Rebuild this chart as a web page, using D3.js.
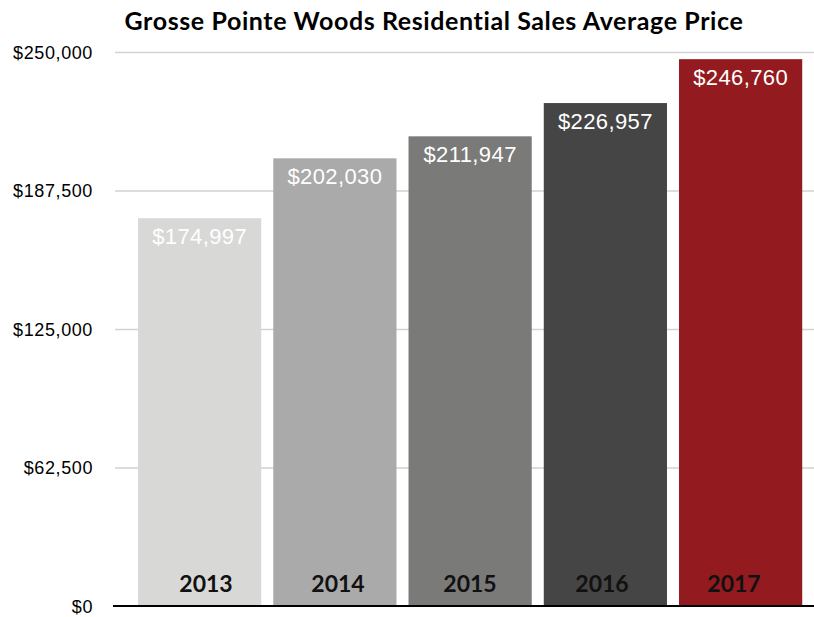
<!DOCTYPE html>
<html>
<head>
<meta charset="utf-8">
<script src="https://cdn.jsdelivr.net/npm/d3@7"></script>
<style>
  html, body { margin: 0; padding: 0; background: #fff; }
  svg { display: block; }
</style>
</head>
<body>
<svg id="chart" width="814" height="617"></svg>
<script>
const years = ["2013", "2014", "2015", "2016", "2017"];
const avgPrice = [174997, 202030, 211947, 226957, 246760];
const barColors = ["#d8d8d7", "#a9aaa9", "#7a7a79", "#454545", "#931a1e"];
const yTicks = [0, 62500, 125000, 187500, 250000];
const title = "Grosse Pointe Woods Residential Sales Average Price";

const svg = d3.select("#chart");
const plotLeft = 114, plotRight = 814;
const yTop = 52, yBottom = 606;

const x = d3.scaleBand()
  .domain(years)
  .range([132, 808.25])
  .paddingInner(0.089)
  .paddingOuter(0.0445);

// year captions sit on a slightly tighter spacing than the bars
const xYear = d3.scalePoint().domain(years).range([206, 734]);

const y = d3.scaleLinear().domain([0, 250000]).range([yBottom, yTop]);

const fmt = d3.format("$,");

// title
svg.append("text")
  .attr("x", 434).attr("y", 30)
  .attr("text-anchor", "middle")
  .attr("font-family", "Lato, 'Open Sans', sans-serif")
  .attr("font-weight", "bold")
  .attr("font-size", 25)
  .attr("letter-spacing", 0.6)
  .attr("fill", "#000")
  .text(title);

// y axis + grid
const yAxis = d3.axisLeft(y).tickValues(yTicks).tickFormat(fmt).tickSize(0).tickPadding(0);
const gAxis = svg.append("g").attr("transform", `translate(${plotLeft},0)`).call(yAxis);
gAxis.select(".domain").remove();
gAxis.selectAll(".tick text")
  .attr("x", -21)
  .attr("dy", "0.36em")
  .attr("font-family", "'Liberation Sans', Arial, sans-serif")
  .attr("font-size", 18)
  .attr("letter-spacing", 0.6)
  .attr("fill", "#000");
gAxis.selectAll(".tick").filter(d => d !== 0)
  .append("line")
  .attr("x1", 1).attr("x2", plotRight - plotLeft)
  .attr("stroke", "#d2d2d2").attr("stroke-width", 1.5);

// bars
svg.append("g").selectAll("rect")
  .data(years)
  .join("rect")
  .attr("x", d => x(d))
  .attr("width", x.bandwidth())
  .attr("y", (d, i) => y(avgPrice[i]))
  .attr("height", (d, i) => y(0) - y(avgPrice[i]))
  .attr("fill", (d, i) => barColors[i]);

// value labels
svg.append("g").selectAll("text")
  .data(years)
  .join("text")
  .attr("x", d => x(d) + x.bandwidth() / 2)
  .attr("y", (d, i) => y(avgPrice[i]) + 26)
  .attr("text-anchor", "middle")
  .attr("font-family", "'Liberation Sans', Arial, sans-serif")
  .attr("font-size", 22)
  .attr("letter-spacing", 0.4)
  .attr("fill", "#fff")
  .text((d, i) => fmt(avgPrice[i]));

// year labels
svg.append("g").selectAll("text")
  .data(years)
  .join("text")
  .attr("x", d => xYear(d))
  .attr("y", 592)
  .attr("text-anchor", "middle")
  .attr("font-family", "Lato, 'Open Sans', sans-serif")
  .attr("font-weight", "bold")
  .attr("font-size", 23)
  .attr("fill", "#111")
  .text(d => d);

// baseline
svg.append("line")
  .attr("x1", plotLeft - 1).attr("x2", plotRight)
  .attr("y1", y(0)).attr("y2", y(0))
  .attr("stroke", "#000").attr("stroke-width", 2);
</script>
</body>
</html>
